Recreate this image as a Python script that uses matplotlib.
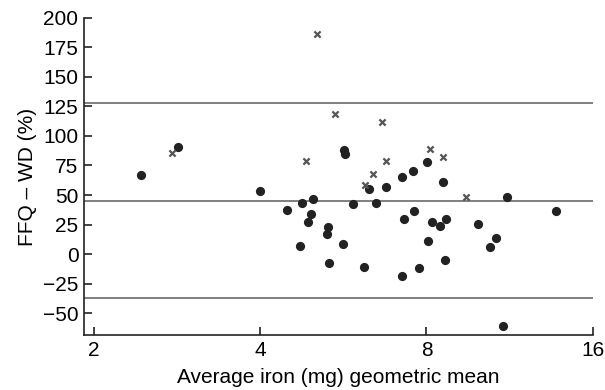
import matplotlib
matplotlib.use("Agg")
import matplotlib.pyplot as plt
from matplotlib.ticker import FixedLocator, FixedFormatter, NullLocator

plt.rcParams['font.family'] = ['Liberation Sans', 'DejaVu Sans']

# Circles (series 1)
circ_x = [2.44, 2.84, 4.00, 4.47, 4.77, 4.99, 4.94, 5.67, 5.69, 5.88,
          4.89, 5.30, 5.28, 4.73, 5.65, 5.34, 6.17, 7.23, 7.75, 8.66,
          8.06, 10.43, 10.70, 9.91, 7.29, 7.61, 8.18, 8.47, 8.68, 11.18,
          13.73, 10.99, 6.47, 6.29, 6.75, 8.56, 7.23, 7.56, 8.01]
circ_y = [66.7, 90.9, 53.4, 37.3, 43.5, 46.3, 33.9, 88.0, 84.7, 42.4,
          26.9, 22.9, 16.7, 7.0, 8.2, -7.3, -11.0, -18.4, -11.6, -5.4,
          11.3, 6.2, 13.6, 25.4, 29.4, 36.4, 27.4, 23.5, 29.7, 48.6,
          36.7, -60.8, 43.5, 54.8, 56.5, 61.3, 65.5, 70.3, 78.2]

# Crosses (series 2)
cross_x = [2.77, 5.08, 5.46, 6.64, 4.85, 8.11, 8.56, 6.77, 6.39, 6.19, 9.42]
cross_y = [85.8, 186.7, 118.6, 112.1, 79.1, 89.0, 81.9, 78.8, 67.5, 58.2, 48.6]

# Reference lines: mean and limits of agreement
ref_lines = [128.0, 45.2, -37.6]

x_ticks = [2, 4, 8, 16]
y_ticks = [-50, -25, 0, 25, 50, 75, 100, 125, 150, 175, 200]

fig = plt.figure(figsize=(6.05, 3.9), dpi=100)
ax = fig.add_axes([0.1388, 0.141, 0.841, 0.813])

ax.set_xscale('log', base=2)
ax.set_xlim(1.92, 16)
ax.set_ylim(-68.6, 200)

for v in ref_lines:
    ax.axhline(v, color='#6a6a6a', lw=1.2, zorder=1)

ax.scatter(circ_x, circ_y, s=44, marker='o', color='#222222', linewidths=0, zorder=3)
ax.scatter(cross_x, cross_y, s=20, marker='x', color='#555555', linewidths=1.6, zorder=3)

ax.xaxis.set_major_locator(FixedLocator(x_ticks))
ax.xaxis.set_major_formatter(FixedFormatter([str(t) for t in x_ticks]))
ax.xaxis.set_minor_locator(NullLocator())
ax.set_yticks(y_ticks)
ax.set_yticklabels([str(t).replace('-', '\u2212') for t in y_ticks])

ax.spines['top'].set_visible(False)
ax.spines['right'].set_visible(False)
for s in ('left', 'bottom'):
    ax.spines[s].set_linewidth(1.2)
    ax.spines[s].set_color('#222222')

ax.tick_params(direction='in', length=6, width=1.2, labelsize=15, color='#222222', pad=4)

ax.set_xlabel('Average iron (mg) geometric mean', fontsize=15, labelpad=6)
ax.set_ylabel('FFQ \u2013 WD (%)', fontsize=15, labelpad=4)

fig.savefig('out.png', dpi=100)
